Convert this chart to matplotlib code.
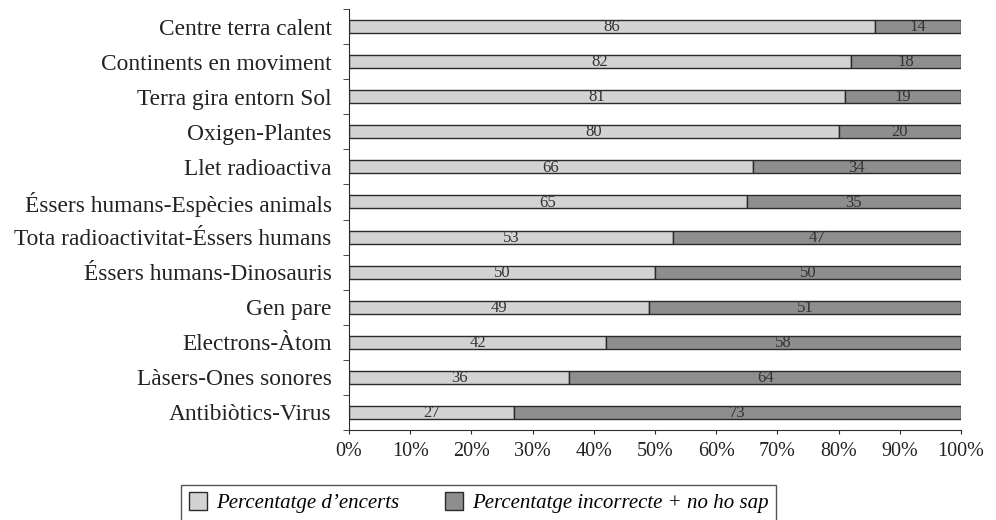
import numpy as np
import matplotlib.pyplot as plt
from matplotlib.ticker import FixedLocator, NullLocator

plt.rcParams['font.family'] = ['Liberation Serif', 'DejaVu Serif']

# dades (de dalt a baix)
categories = ['Centre terra calent', 'Continents en moviment', 'Terra gira entorn Sol',
              'Oxigen-Plantes', 'Llet radioactiva', 'Éssers humans-Espècies animals',
              'Tota radioactivitat-Éssers humans', 'Éssers humans-Dinosauris',
              'Gen pare', 'Electrons-Àtom', 'Làsers-Ones sonores', 'Antibiòtics-Virus']
encerts = [86, 82, 81, 80, 66, 65, 53, 50, 49, 42, 36, 27]
incorrectes = [14, 18, 19, 20, 34, 35, 47, 50, 51, 58, 64, 73]

c_light = '#d3d3d3'
c_dark = '#8e8e8e'
c_line = '#2a2a2a'

fig = plt.figure(figsize=(9.96, 5.2), dpi=100)
ax = fig.add_axes([349 / 996, 1 - 430 / 520, 612 / 996, 421 / 520])

n = len(categories)
y = np.arange(n)[::-1]
h = 0.37
b1 = ax.barh(y, encerts, height=h, color=c_light, edgecolor=c_line, linewidth=1.0,
             label="Percentatge d’encerts")
b2 = ax.barh(y, incorrectes, left=encerts, height=h, color=c_dark, edgecolor=c_line,
             linewidth=1.0, label='Percentatge incorrecte + no ho sap')

for yi, e, w in zip(y, encerts, incorrectes):
    ax.text(e / 2, yi - 0.02, str(e), ha='center', va='center', fontsize=12, color='#333333')
    ax.text(e + w / 2, yi - 0.02, str(w), ha='center', va='center', fontsize=12, color='#333333')

ax.set_xlim(0, 100)
ax.set_ylim(-0.5, n - 0.5)
ax.set_xticks(np.arange(0, 101, 10))
ax.set_xticklabels([f'{v}%' for v in range(0, 101, 10)], fontsize=14.5, color='#222222')
ax.set_yticks(y)
ax.set_yticklabels(categories, fontsize=16.8, color='#222222')
ax.tick_params(axis='y', length=0, pad=12.5)
ax.yaxis.set_minor_locator(FixedLocator(np.arange(-0.5, n, 1.0)))
ax.tick_params(axis='y', which='minor', length=4, color=c_line)
ax.tick_params(axis='x', length=3, color=c_line, pad=6)
ax.xaxis.set_minor_locator(NullLocator())

for s in ['top', 'right']:
    ax.spines[s].set_visible(False)
for s in ['left', 'bottom']:
    ax.spines[s].set_color(c_line)

leg = fig.legend(handles=[b1, b2], loc='center', bbox_to_anchor=(478.5 / 996, 0.033), ncol=2,
                 frameon=True, fancybox=False, edgecolor=c_line,
                 prop={'style': 'italic', 'size': 15}, handlelength=0.9, handleheight=0.9,
                 columnspacing=2.2, borderpad=0.35, handletextpad=0.4, borderaxespad=0)
leg.get_frame().set_linewidth(1.0)

fig.savefig('out.png', dpi=100)
